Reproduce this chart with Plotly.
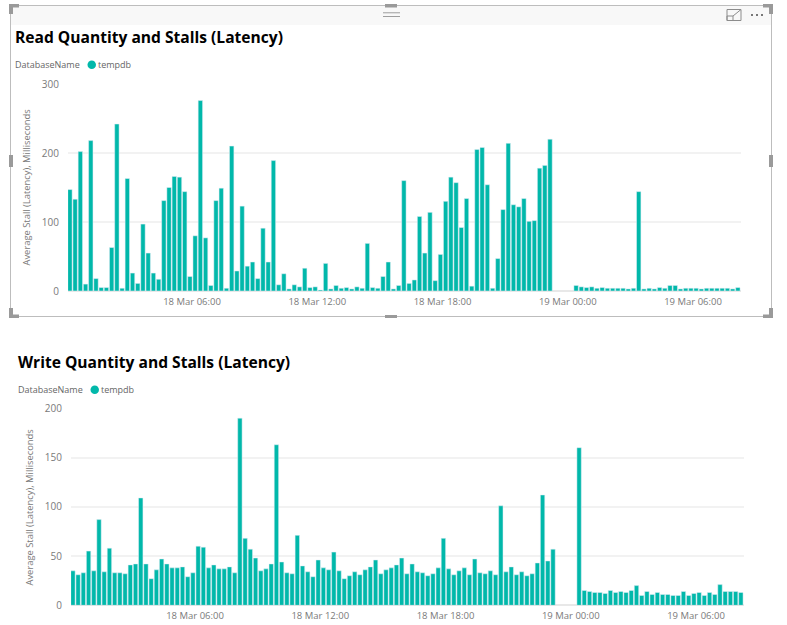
import pandas as pd
import plotly.graph_objects as go

W, H = 787, 625
BAR_COLOR = "#01B8AA"
TEXT_GREY = "#7A7A7A"
FONT = "Open Sans"

# one bar every 15 minutes, None where the source has no reading
times = pd.date_range("2019-03-18 00:09", periods=129, freq="15min")

read_stalls = [
    147, 133, 202, 10, 218, 18, 5, 5, 63, 242, 4, 163, 26, 11, 97, 55, 26, 17, 131, 150,
    166, 165, 144, 21, 80, 276, 77, 8, 131, 149, 4, 210, 29, 123, 36, 42, 18, 91, 42, 189,
    9, 25, 3, 9, 6, 33, 5, 6, 1.5, 40, 3, 8, 4, 5, 3, 6, 4, 69, 5, 4, 21, 42, 3, 8,
    160, 11, 16, 108, 55, 114, 15, 53, 130, 165, 157, 92, 134, 7, 205, 208, 154, 4, 47, 118,
    214, 125, 122, 134, 101, 102, 178, 182, 220,
    None, None, None, None,
    8, 6, 5, 6, 4, 5, 4, 4, 4, 4, 3, 4, 144, 3, 4, 3, 5, 4, 8, 8,
    3, 4, 4, 4, 3, 4, 4, 4, 4, 4, 3, 5,
]

write_stalls = [
    35, 31, 33, 55, 35, 87, 34, 58, 33, 33, 32, 41, 42, 109, 42, 27, 36, 47, 42, 38,
    38, 39, 29, 33, 60, 59, 38, 41, 37, 37, 39, 33, 190, 68, 57, 48, 35, 37, 42, 163,
    44, 33, 32, 71, 40, 34, 29, 46, 38, 36, 54, 35, 27, 30, 34, 31, 36, 39, 46, 32,
    36, 38, 41, 48, 32, 42, 34, 33, 30, 32, 38, 68, 37, 31, 35, 38, 31, 47, 33, 32,
    35, 31, 101, 34, 39, 31, 34, 30, 32, 43, 112, 45, 57,
    None, None, None, None,
    160, 15, 14, 13, 13, 12, 15, 13, 14, 13, 15, 20, 10, 14, 11, 13, 11, 11, 10, 10,
    14, 10, 12, 13, 10, 13, 11, 21, 14, 14, 14, 13,
]

tick_vals = ["2019-03-18 06:00", "2019-03-18 12:00", "2019-03-18 18:00", "2019-03-19 00:00", "2019-03-19 06:00"]
tick_text = ["18 Mar 06:00", "18 Mar 12:00", "18 Mar 18:00", "19 Mar 00:00", "19 Mar 06:00"]
x_range = ["2019-03-18 00:03:30", "2019-03-19 08:18:00"]


def px_x(x):
    return x / W


def px_y(y):
    return 1 - y / H


def rect(x0, y0, x1, y1, fill, line=None):
    return dict(type="rect", xref="paper", yref="paper", layer="below",
                x0=px_x(x0), x1=px_x(x1), y0=px_y(y0), y1=px_y(y1),
                fillcolor=fill, line=dict(color=line or fill, width=1 if line else 0))


def label(x, y, text, size=10, color=TEXT_GREY, family=FONT, anchor="left", angle=0, bold=False):
    if bold:
        text = f"<b>{text}</b>"
    return dict(xref="paper", yref="paper", x=px_x(x), y=px_y(y), text=text, showarrow=False,
                xanchor=anchor, yanchor="middle", textangle=angle,
                font=dict(size=size, color=color, family=family))


fig = go.Figure()
fig.add_trace(go.Bar(x=times, y=read_stalls, marker_color=BAR_COLOR, xaxis="x", yaxis="y", showlegend=False))
fig.add_trace(go.Bar(x=times, y=write_stalls, marker_color=BAR_COLOR, xaxis="x2", yaxis="y2", showlegend=False))

x_style = dict(type="date", range=x_range, tickmode="array", tickvals=tick_vals, ticktext=tick_text,
               showgrid=False, zeroline=False, showline=False, ticks="", automargin=False,
               ticklabelstandoff=3, tickfont=dict(size=9.5, color=TEXT_GREY, family=FONT))
y_style = dict(gridcolor="#F2F2F2", gridwidth=1.5, zeroline=True, zerolinecolor="#E8E8E8", showline=False,
               ticks="", automargin=False, ticklabelstandoff=8,
               tickfont=dict(size=10, color=TEXT_GREY, family=FONT))

# top panel chrome: header strip, outline, handles, icons
GREY = "#9A9A9A"
shapes = [
    rect(10.5, 5.5, 771.5, 316.5, "white", "#BDBDBD"),
    rect(11, 6, 771, 25, "#F8F8F8"),
    rect(9, 4, 19, 7.5, GREY), rect(9, 4, 13, 14, GREY),
    rect(763, 4, 773, 7.5, GREY), rect(769, 4, 773, 14, GREY),
    rect(9, 314.5, 19, 318, GREY), rect(9, 308, 13, 318, GREY),
    rect(763, 314.5, 773, 318, GREY), rect(769, 308, 773, 318, GREY),
    rect(385, 4, 397, 7.5, GREY), rect(385, 315, 397, 318, GREY),
    rect(9, 155, 13, 167, GREY), rect(769, 155, 773, 167, GREY),
    rect(383, 12.5, 400, 13.2, "#777777"), rect(383, 16, 400, 16.7, "#777777"),
    rect(727, 9.5, 741, 20.5, "rgba(0,0,0,0)", "#8C8C8C"),
    rect(727, 16, 733, 20.5, "rgba(0,0,0,0)", "#8C8C8C"),
    dict(type="line", xref="paper", yref="paper", x0=px_x(733), x1=px_x(741), y0=px_y(16), y1=px_y(9.5),
         line=dict(color="#8C8C8C", width=1)),
    rect(751, 14, 753, 16, "#777777"), rect(756, 14, 758, 16, "#777777"), rect(761, 14, 763, 16, "#777777"),
    # legend dots
    dict(type="circle", xref="paper", yref="paper", fillcolor=BAR_COLOR, line_width=0,
         x0=px_x(87.5), x1=px_x(96), y0=px_y(69), y1=px_y(60.5)),
    dict(type="circle", xref="paper", yref="paper", fillcolor=BAR_COLOR, line_width=0,
         x0=px_x(90.5), x1=px_x(99), y0=px_y(394), y1=px_y(385.5)),
]

annotations = [
    label(13, 37, "Read Quantity and Stalls (Latency)", size=15.6, color="#000000", bold=True),
    label(13, 64.5, "DatabaseName", size=9, color="#666666"),
    label(96, 64.5, "tempdb", size=9, color="#666666"),
    label(26, 187.5, "Average Stall (Latency), Milliseconds", size=9.4, anchor="center", angle=-90),
    label(16, 362, "Write Quantity and Stalls (Latency)", size=15.6, color="#000000", bold=True),
    label(16, 389.5, "DatabaseName", size=9, color="#666666"),
    label(99, 389.5, "tempdb", size=9, color="#666666"),
    label(29, 507.5, "Average Stall (Latency), Milliseconds", size=9.4, anchor="center", angle=-90),
]

fig.update_layout(
    width=W, height=H, margin=dict(l=0, r=0, t=0, b=0),
    paper_bgcolor="white", plot_bgcolor="rgba(0,0,0,0)",
    bargap=0.16, barmode="overlay",
    shapes=shapes, annotations=annotations,
    xaxis=dict(domain=[px_x(68), px_x(741)], anchor="y", **x_style),
    yaxis=dict(domain=[px_y(291), px_y(84)], anchor="x", range=[0, 300], tickvals=[0, 100, 200, 300], **y_style),
    xaxis2=dict(domain=[px_x(71), px_x(744)], anchor="y2", **x_style),
    yaxis2=dict(domain=[px_y(605.3), px_y(408.3)], anchor="x2", range=[0, 200],
                tickvals=[0, 50, 100, 150, 200], **y_style),
)

fig.write_html("out.html", config=dict(displayModeBar=False),
               post_script="document.body.style.margin='0';document.body.style.overflow='hidden';")
